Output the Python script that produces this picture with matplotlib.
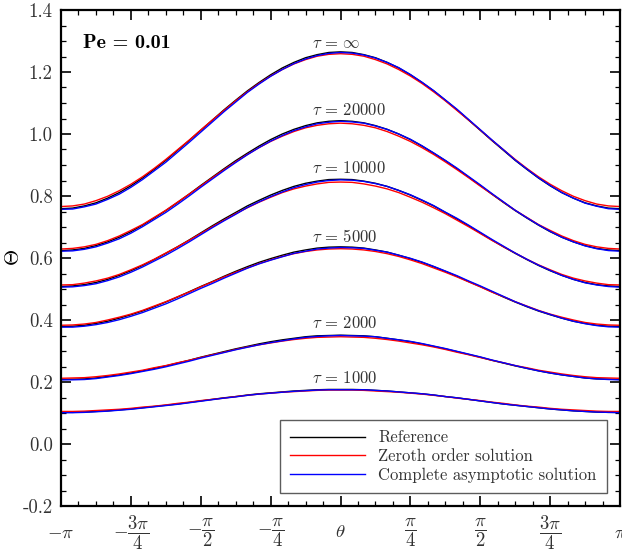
import numpy as np
import matplotlib
matplotlib.use('Agg')
import matplotlib.pyplot as plt
from matplotlib.ticker import MultipleLocator, FormatStrFormatter

plt.rcParams['font.family'] = 'serif'
plt.rcParams['font.serif'] = ['cmr10']
plt.rcParams['mathtext.fontset'] = 'cm'
plt.rcParams['axes.unicode_minus'] = False
plt.rcParams['axes.formatter.use_mathtext'] = True

# angulo, de -pi a pi em passos de pi/24
theta = np.linspace(-np.pi, np.pi, 49)

tau_labels = [r'$\tau \,=\, \infty$', r'$\tau \,=\, 20000$', r'$\tau \,=\, 10000$',
              r'$\tau \,=\, 5000$', r'$\tau \,=\, 2000$', r'$\tau \,=\, 1000$']
tau_label_y = [1.294, 1.077, 0.891, 0.669, 0.389, 0.213]

# Reference (preto)
ref_inf = [0.759, 0.761, 0.768, 0.778, 0.793, 0.811, 0.833, 0.858, 0.886, 0.915, 0.947, 0.979, 1.012,
           1.045, 1.078, 1.109, 1.139, 1.166, 1.191, 1.213, 1.231, 1.246, 1.256, 1.263, 1.265,
           1.263, 1.256, 1.246, 1.231, 1.213, 1.191, 1.166, 1.139, 1.109, 1.078, 1.045, 1.012,
           0.979, 0.947, 0.915, 0.886, 0.858, 0.833, 0.811, 0.793, 0.778, 0.768, 0.761, 0.759]
ref_20000 = [0.624, 0.626, 0.631, 0.640, 0.652, 0.667, 0.685, 0.706, 0.729, 0.753, 0.779, 0.806, 0.834,
             0.861, 0.888, 0.914, 0.938, 0.961, 0.982, 1.000, 1.015, 1.027, 1.036, 1.041, 1.043,
             1.041, 1.036, 1.027, 1.015, 1.000, 0.982, 0.961, 0.938, 0.914, 0.888, 0.861, 0.834,
             0.806, 0.779, 0.753, 0.729, 0.706, 0.685, 0.667, 0.652, 0.640, 0.631, 0.626, 0.624]
ref_10000 = [0.508, 0.510, 0.514, 0.521, 0.531, 0.544, 0.559, 0.576, 0.595, 0.615, 0.636, 0.658, 0.681,
             0.704, 0.726, 0.747, 0.768, 0.786, 0.803, 0.818, 0.831, 0.841, 0.848, 0.853, 0.854,
             0.853, 0.848, 0.841, 0.831, 0.818, 0.803, 0.786, 0.768, 0.747, 0.726, 0.704, 0.681,
             0.658, 0.636, 0.615, 0.595, 0.576, 0.559, 0.544, 0.531, 0.521, 0.514, 0.510, 0.508]
ref_5000 = [0.379, 0.380, 0.383, 0.389, 0.396, 0.406, 0.417, 0.429, 0.443, 0.458, 0.474, 0.491, 0.508,
            0.524, 0.541, 0.557, 0.572, 0.586, 0.598, 0.609, 0.619, 0.626, 0.632, 0.635, 0.636,
            0.635, 0.632, 0.626, 0.619, 0.609, 0.598, 0.586, 0.572, 0.557, 0.541, 0.524, 0.508,
            0.491, 0.474, 0.458, 0.443, 0.429, 0.417, 0.406, 0.396, 0.389, 0.383, 0.380, 0.379]
ref_2000 = [0.208, 0.209, 0.210, 0.213, 0.218, 0.223, 0.229, 0.236, 0.244, 0.252, 0.261, 0.270, 0.280,
            0.289, 0.298, 0.307, 0.315, 0.323, 0.330, 0.336, 0.341, 0.346, 0.349, 0.350, 0.351,
            0.350, 0.349, 0.346, 0.341, 0.336, 0.330, 0.323, 0.315, 0.307, 0.298, 0.289, 0.280,
            0.270, 0.261, 0.252, 0.244, 0.236, 0.229, 0.223, 0.218, 0.213, 0.210, 0.209, 0.208]
ref_1000 = [0.102, 0.102, 0.103, 0.105, 0.107, 0.110, 0.113, 0.117, 0.121, 0.125, 0.129, 0.134, 0.139,
            0.144, 0.149, 0.153, 0.158, 0.162, 0.165, 0.168, 0.171, 0.173, 0.175, 0.176, 0.176,
            0.176, 0.175, 0.173, 0.171, 0.168, 0.165, 0.162, 0.158, 0.153, 0.149, 0.144, 0.139,
            0.134, 0.129, 0.125, 0.121, 0.117, 0.113, 0.110, 0.107, 0.105, 0.103, 0.102, 0.102]

# Zeroth order solution (vermelho)
zero_inf = [0.766, 0.768, 0.774, 0.785, 0.799, 0.817, 0.838, 0.862, 0.889, 0.918, 0.949, 0.980, 1.013,
            1.045, 1.076, 1.107, 1.136, 1.163, 1.187, 1.208, 1.226, 1.240, 1.251, 1.257, 1.259,
            1.257, 1.251, 1.240, 1.226, 1.208, 1.187, 1.163, 1.136, 1.107, 1.076, 1.045, 1.013,
            0.980, 0.949, 0.918, 0.889, 0.862, 0.838, 0.817, 0.799, 0.785, 0.774, 0.768, 0.766]
zero_20000 = [0.629, 0.631, 0.636, 0.644, 0.656, 0.671, 0.689, 0.708, 0.731, 0.754, 0.780, 0.806, 0.832,
              0.859, 0.885, 0.910, 0.934, 0.956, 0.976, 0.993, 1.008, 1.020, 1.028, 1.033, 1.035,
              1.033, 1.028, 1.020, 1.008, 0.993, 0.976, 0.956, 0.934, 0.910, 0.885, 0.859, 0.832,
              0.806, 0.780, 0.754, 0.731, 0.708, 0.689, 0.671, 0.656, 0.644, 0.636, 0.631, 0.629]
zero_10000 = [0.513, 0.514, 0.519, 0.526, 0.535, 0.547, 0.562, 0.578, 0.596, 0.616, 0.636, 0.657, 0.679,
              0.701, 0.722, 0.743, 0.762, 0.780, 0.796, 0.811, 0.823, 0.832, 0.839, 0.844, 0.845,
              0.844, 0.839, 0.832, 0.823, 0.811, 0.796, 0.780, 0.762, 0.743, 0.722, 0.701, 0.679,
              0.657, 0.636, 0.616, 0.596, 0.578, 0.562, 0.547, 0.535, 0.526, 0.519, 0.514, 0.513]
zero_5000 = [0.383, 0.384, 0.387, 0.392, 0.400, 0.409, 0.419, 0.431, 0.445, 0.459, 0.475, 0.490, 0.507,
             0.523, 0.539, 0.554, 0.568, 0.582, 0.594, 0.605, 0.614, 0.621, 0.626, 0.629, 0.630,
             0.629, 0.626, 0.621, 0.614, 0.605, 0.594, 0.582, 0.568, 0.554, 0.539, 0.523, 0.507,
             0.490, 0.475, 0.459, 0.445, 0.431, 0.419, 0.409, 0.400, 0.392, 0.387, 0.384, 0.383]
zero_2000 = [0.212, 0.213, 0.214, 0.217, 0.221, 0.226, 0.232, 0.238, 0.246, 0.253, 0.262, 0.270, 0.279,
             0.288, 0.296, 0.305, 0.313, 0.320, 0.326, 0.332, 0.337, 0.341, 0.344, 0.345, 0.346,
             0.345, 0.344, 0.341, 0.337, 0.332, 0.326, 0.320, 0.313, 0.305, 0.296, 0.288, 0.279,
             0.270, 0.262, 0.253, 0.246, 0.238, 0.232, 0.226, 0.221, 0.217, 0.214, 0.213, 0.212]
zero_1000 = [0.105, 0.105, 0.106, 0.108, 0.110, 0.112, 0.115, 0.119, 0.122, 0.126, 0.131, 0.135, 0.140,
             0.144, 0.148, 0.153, 0.157, 0.161, 0.164, 0.167, 0.169, 0.171, 0.173, 0.174, 0.174,
             0.174, 0.173, 0.171, 0.169, 0.167, 0.164, 0.161, 0.157, 0.153, 0.148, 0.144, 0.140,
             0.135, 0.131, 0.126, 0.122, 0.119, 0.115, 0.112, 0.110, 0.108, 0.106, 0.105, 0.105]

# Complete asymptotic solution (azul)
full_inf = [0.757, 0.758, 0.765, 0.774, 0.789, 0.806, 0.828, 0.853, 0.881, 0.909, 0.941, 0.973, 1.006,
            1.039, 1.072, 1.103, 1.134, 1.161, 1.186, 1.208, 1.227, 1.242, 1.253, 1.260, 1.263,
            1.261, 1.255, 1.245, 1.231, 1.214, 1.192, 1.167, 1.140, 1.110, 1.080, 1.047, 1.014,
            0.981, 0.949, 0.916, 0.887, 0.859, 0.834, 0.811, 0.793, 0.777, 0.767, 0.759, 0.757]
full_20000 = [0.622, 0.623, 0.628, 0.636, 0.648, 0.662, 0.680, 0.701, 0.724, 0.747, 0.773, 0.800, 0.828,
              0.855, 0.882, 0.908, 0.933, 0.956, 0.977, 0.995, 1.011, 1.023, 1.033, 1.038, 1.041,
              1.039, 1.035, 1.026, 1.015, 1.000, 0.983, 0.962, 0.939, 0.915, 0.890, 0.863, 0.836,
              0.808, 0.781, 0.754, 0.730, 0.707, 0.686, 0.667, 0.652, 0.639, 0.630, 0.624, 0.622]
full_10000 = [0.506, 0.507, 0.511, 0.517, 0.527, 0.539, 0.554, 0.571, 0.590, 0.609, 0.630, 0.652, 0.675,
              0.698, 0.720, 0.741, 0.763, 0.781, 0.798, 0.813, 0.827, 0.837, 0.845, 0.850, 0.852,
              0.851, 0.847, 0.840, 0.831, 0.818, 0.804, 0.787, 0.769, 0.748, 0.728, 0.706, 0.683,
              0.660, 0.638, 0.616, 0.596, 0.577, 0.560, 0.544, 0.531, 0.520, 0.513, 0.508, 0.506]
full_5000 = [0.377, 0.377, 0.380, 0.385, 0.392, 0.401, 0.412, 0.424, 0.438, 0.452, 0.468, 0.485, 0.502,
             0.518, 0.535, 0.551, 0.567, 0.581, 0.593, 0.604, 0.615, 0.622, 0.629, 0.632, 0.634,
             0.633, 0.631, 0.625, 0.619, 0.609, 0.599, 0.587, 0.573, 0.558, 0.543, 0.526, 0.510,
             0.493, 0.476, 0.459, 0.444, 0.430, 0.418, 0.406, 0.396, 0.388, 0.382, 0.378, 0.377]
full_2000 = [0.207, 0.207, 0.208, 0.211, 0.216, 0.221, 0.227, 0.234, 0.241, 0.249, 0.258, 0.267, 0.277,
             0.286, 0.295, 0.304, 0.312, 0.320, 0.327, 0.333, 0.339, 0.344, 0.347, 0.349, 0.350,
             0.349, 0.348, 0.346, 0.341, 0.336, 0.331, 0.324, 0.316, 0.308, 0.299, 0.290, 0.281,
             0.271, 0.262, 0.253, 0.244, 0.236, 0.229, 0.223, 0.218, 0.213, 0.210, 0.208, 0.207]
full_1000 = [0.101, 0.101, 0.102, 0.104, 0.106, 0.109, 0.112, 0.116, 0.120, 0.124, 0.128, 0.133, 0.138,
             0.143, 0.148, 0.152, 0.157, 0.161, 0.164, 0.167, 0.170, 0.172, 0.174, 0.175, 0.175,
             0.175, 0.175, 0.173, 0.171, 0.168, 0.165, 0.162, 0.158, 0.153, 0.149, 0.144, 0.139,
             0.134, 0.129, 0.125, 0.121, 0.117, 0.113, 0.110, 0.107, 0.105, 0.103, 0.102, 0.101]

refs = [ref_inf, ref_20000, ref_10000, ref_5000, ref_2000, ref_1000]
zeros = [zero_inf, zero_20000, zero_10000, zero_5000, zero_2000, zero_1000]
fulls = [full_inf, full_20000, full_10000, full_5000, full_2000, full_1000]

xtick_labels = [r'$-\pi$', r'$-\dfrac{3\pi}{4}$', r'$-\dfrac{\pi}{2}$', r'$-\dfrac{\pi}{4}$',
                r'$\theta$', r'$\dfrac{\pi}{4}$', r'$\dfrac{\pi}{2}$', r'$\dfrac{3\pi}{4}$', r'$\pi$']

fig = plt.figure(figsize=(6.22, 5.58), dpi=100)
ax = fig.add_axes([61/622, 1 - 506/558, 559/622, 496/558])

for i in range(len(refs)):
    ax.plot(theta, refs[i], color='black', lw=1.0, label='Reference' if i == 0 else None)
    ax.plot(theta, zeros[i], color='red', lw=1.0, label='Zeroth order solution' if i == 0 else None)
    ax.plot(theta, fulls[i], color='blue', lw=1.0, label='Complete asymptotic solution' if i == 0 else None)
    ax.text(-0.32, tau_label_y[i], tau_labels[i], fontsize=12, color='#333333', va='center', ha='left')

ax.text(0.039, 0.933, 'Pe = 0.01', transform=ax.transAxes, fontsize=14.5, family='cmb10',
        va='center', ha='left')

ax.set_xlim(-np.pi, np.pi)
ax.set_ylim(-0.2, 1.4)
ax.set_xticks(np.arange(-4, 5) * np.pi / 4)
ax.set_xticklabels(xtick_labels)
ax.xaxis.set_minor_locator(MultipleLocator(np.pi / 16))
ax.yaxis.set_major_locator(MultipleLocator(0.2))
ax.yaxis.set_minor_locator(MultipleLocator(0.05))
ax.yaxis.set_major_formatter(FormatStrFormatter('%.1f'))

ax.tick_params(which='both', direction='in', top=True, right=True, colors='black',
               labelcolor='#333333')
ax.tick_params(which='major', length=7.5, width=1.2)
ax.tick_params(which='minor', length=3.8, width=0.9)
ax.tick_params(axis='x', pad=19, labelsize=13.5)
ax.tick_params(axis='y', pad=6, labelsize=13.5)
for lab in ax.get_xticklabels():
    lab.set_verticalalignment('center')

for s in ax.spines.values():
    s.set_linewidth(1.6)

ax.set_ylabel(r'$\mathbf{\Theta}$', fontsize=15)
ax.yaxis.set_label_coords(-0.068, 0.5)

leg = ax.legend(loc='lower right', fontsize=12, frameon=True, fancybox=False,
                edgecolor='#333333', handlelength=4.5, handletextpad=0.8,
                labelspacing=0.2, borderaxespad=0.8, borderpad=0.6)
leg.get_frame().set_linewidth(1.0)
for t in leg.get_texts():
    t.set_color('#333333')

fig.savefig('out.png', dpi=100)
